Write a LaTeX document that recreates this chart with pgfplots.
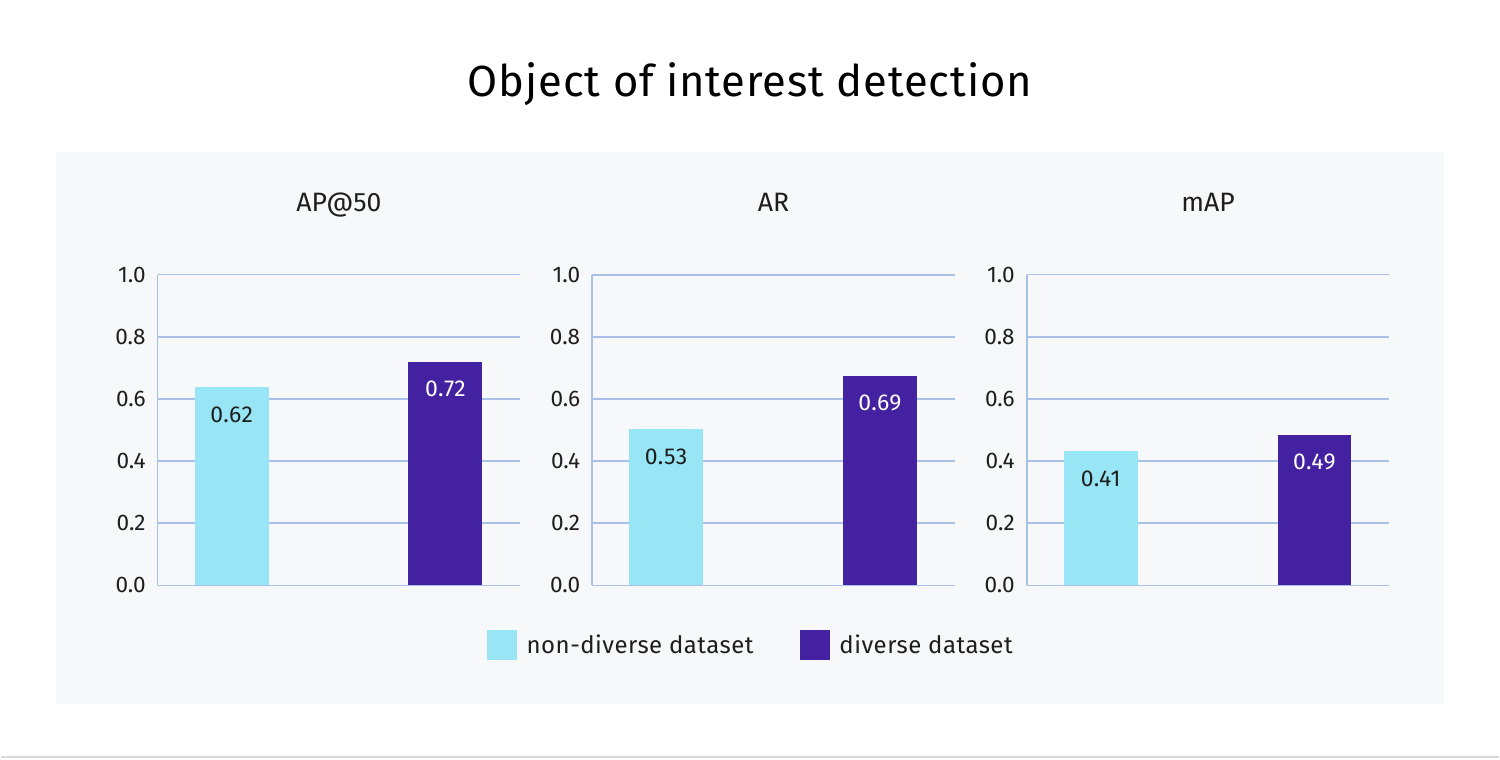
\documentclass[border=0pt]{standalone}
\usepackage{pgfplots}
\pgfplotsset{compat=1.18}
\usepackage{fontspec}
\setmainfont{Fira Sans}
\definecolor{lightbar}{HTML}{98E6F5}
\definecolor{darkbar}{HTML}{4321A0}
\definecolor{gridc}{HTML}{A9C1E8}
\definecolor{panel}{HTML}{F7F8FA}
\definecolor{txt}{HTML}{1E1E1E}
\pgfplotsset{
  sub/.style={
    scale only axis, width=181.5pt, height=155.5pt, anchor=south west,
    xmin=-0.346, xmax=1.35, ymin=0, ymax=1,
    axis x line*=bottom, axis y line*=left,
    axis line style={gridc, line width=0.8pt},
    ytick={0,0.2,0.4,0.6,0.8,1}, xtick=\empty,
    ymajorgrids, grid style={gridc, line width=0.8pt},
    major tick length=0pt,
    /pgf/number format/assume math mode=true,
    yticklabel style={font=\fontsize{11.3}{13}\selectfont, text=txt, xshift=-2.5pt,
      /pgf/number format/fixed, /pgf/number format/fixed zerofill, /pgf/number format/precision=1},
    title style={at={(0.5,1)}, anchor=base, yshift=25.8pt, font=\fontsize{13.3}{16}\selectfont, text=txt},
    point meta=explicit symbolic,
    nodes near coords,
    nodes near coords style={font=\fontsize{11.5}{13}\selectfont\addfontfeatures{LetterSpace=2}, anchor=center, yshift=-13.5pt},
    clip=false,
  },
  lb/.style={ybar, bar width=37pt, bar shift=0pt, fill=lightbar, draw=none,
    every node near coord/.append style={text=txt},
    legend image code/.code={\fill[lightbar] (0pt,-7.5pt) rectangle (15pt,7.5pt);}},
  db/.style={ybar, bar width=37pt, bar shift=0pt, fill=darkbar, draw=none,
    every node near coord/.append style={text=white},
    legend image code/.code={\fill[darkbar] (0pt,-7.5pt) rectangle (15pt,7.5pt);}},
}
\begin{document}
\begin{tikzpicture}
\fill[white] (0pt,0pt) rectangle (750pt,380pt);
\fill[panel] (27.5pt,27.5pt) rectangle (722.5pt,304pt);
\draw[color=black!15, line width=0.8pt] (0pt,1.2pt) -- (750pt,1.2pt);
\node[anchor=base, font=\fontsize{21.8}{26}\selectfont\addfontfeatures{LetterSpace=2}, text=black] at (375pt,331.5pt) {Object of interest detection};

\begin{axis}[sub, at={(78.5pt,87pt)}, title={AP@50}]
\addplot[lb] coordinates {(0,0.637) [0.62]};
\addplot[db] coordinates {(1,0.720) [0.72]};
\end{axis}

\begin{axis}[sub, at={(296pt,87pt)}, title={AR},
  legend columns=2,
  legend style={at={(0.44,-0.193)}, anchor=center, draw=none, fill=none,
    font=\fontsize{12}{14}\selectfont\addfontfeatures{LetterSpace=2}, text=txt,
    /tikz/every odd column/.append style={column sep=3pt},
    /tikz/every even column/.append style={column sep=21pt}}]
\addplot[lb] coordinates {(0,0.502) [0.53]};
\addlegendentry{non-diverse dataset}
\addplot[db] coordinates {(1,0.675) [0.69]};
\addlegendentry{diverse dataset}
\end{axis}

\begin{axis}[sub, at={(513.5pt,87pt)}, title={mAP}]
\addplot[lb] coordinates {(0,0.431) [0.41]};
\addplot[db] coordinates {(1,0.483) [0.49]};
\end{axis}
\end{tikzpicture}
\end{document}
